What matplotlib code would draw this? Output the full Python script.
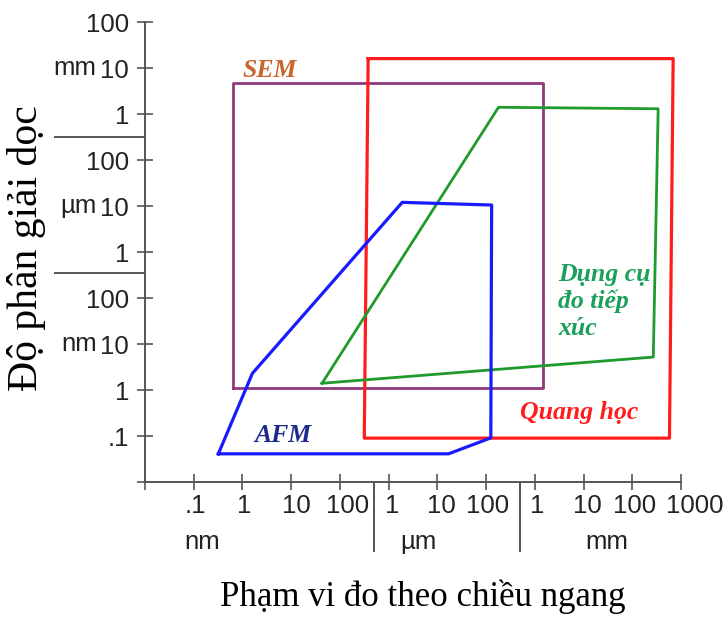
import numpy as np
import matplotlib
matplotlib.use("Agg")
import matplotlib.pyplot as plt
import matplotlib.transforms as mtransforms

# lengths are all in nm
x_ticks = [1e-2, 1e-1, 1, 10, 100, 1e3, 1e4, 1e5, 1e6, 1e7, 1e8, 1e9]
x_labels = ["", ".1", "1", "10", "100", "1", "10", "100", "1", "10", "100", "1000"]
y_ticks = [1e-2, 1e-1, 1, 10, 100, 1e3, 1e4, 1e5, 1e6, 1e7, 1e8]
y_labels = ["", ".1", "1", "10", "100", "1", "10", "100", "1", "10", "100"]
units = ["nm", "µm", "mm"]
unit_x_pos = [0.15, 4e3, 3e7]       # where unit names sit under the x axis
unit_y_pos = [10, 1e4, 1e7]         # unit names next to the y axis
x_dividers = [10**2.7, 10**5.7]
y_dividers = [10**2.55, 10**5.5]

sem_x = [0.65, 1.5e6, 1.5e6, 0.65]
sem_y = [1.1, 1.1, 4.7e6, 4.7e6]
opt_x = [380, 6.9e8, 5.8e8, 316]
opt_y = [1.6e7, 1.6e7, 0.09, 0.09]
contact_x = [43, 1.8e5, 3.4e8, 2.7e8]
contact_y = [1.4, 1.4e6, 1.3e6, 5.2]
afm_x = [0.32, 1.6, 1.9e3, 1.3e5, 1.25e5, 1.7e4]
afm_y = [0.041, 2.3, 1.2e4, 1.05e4, 0.091, 0.041]

fig = plt.figure(figsize=(7.28, 6.17), dpi=100)
ax = fig.add_axes([145/728, 135/617, 536/728, 460/617])
ax.set_xscale("log")
ax.set_yscale("log")
ax.set_xlim(1e-2, 1e9)
ax.set_ylim(1e-2, 1e8)
ax.minorticks_off()

for s in ["top", "right"]:
    ax.spines[s].set_visible(False)
for s in ["left", "bottom"]:
    ax.spines[s].set_color("#555555")
    ax.spines[s].set_linewidth(1.4)

tick_font = dict(family="Liberation Sans", size=18.5, color="#222222")
ax.set_xticks(x_ticks)
ax.set_xticklabels(x_labels, fontdict=tick_font)
ax.set_yticks(y_ticks)
ax.set_yticklabels(y_labels, fontdict=tick_font)
ax.tick_params(direction="inout", length=11, width=1.2, color="#555555")
ax.tick_params(axis="y", pad=6)
ax.tick_params(axis="x", pad=3)
# small nudges of the x tick labels (px), as in the original drawing
x_nudge = [0, 2, 2, 5, 8, 4, 4, 1, 2, 4, 2, 14]
for lbl, dx in zip(ax.get_xticklabels(), x_nudge):
    lbl.set_transform(lbl.get_transform() +
                      mtransforms.ScaledTranslation(dx/100, 0, fig.dpi_scale_trans))

def close(v):
    return list(v) + [v[0]]

ax.plot(close(sem_x), close(sem_y), color="#8c3a7c", lw=2.0, clip_on=False)
ax.plot(close(opt_x), close(opt_y), color="#ff1c1c", lw=2.3, clip_on=False)
ax.plot(close(contact_x), close(contact_y), color="#1f9a2c", lw=2.0, clip_on=False)
ax.plot(close(afm_x), close(afm_y), color="#1a1aff", lw=2.3, clip_on=False)

lab = dict(family="Liberation Serif", weight="bold", style="italic", size=18.5)
ax.text(10**0.55, 10**6.95, "SEM", color="#c8652c", ha="center", va="center", **lab)
ax.text(10**0.82, 10**-0.99, "AFM", color="#1c2a8c", ha="center", va="center", **lab)
ax.text(10**6.48, 10**1.93, "Dụng cụ\nđo tiếp\nxúc", color="#1aa05a", ha="left",
        va="center", linespacing=1.2, **lab)
ax.text(10**6.91, 10**-0.5, "Quang học", color="#ff1c1c", ha="center", va="center", **lab)

# unit names and dividers
xt = mtransforms.blended_transform_factory(ax.transData, ax.transAxes)
yt = mtransforms.blended_transform_factory(ax.transAxes, ax.transData)
for u, xp in zip(units, unit_x_pos):
    ax.text(xp, -0.13, u, transform=xt, ha="center", va="center", clip_on=False, **tick_font)
for u, yp in zip(units, unit_y_pos):
    ax.text(-0.09, yp, u, transform=yt, ha="right", va="center", clip_on=False, **tick_font)
for xv in x_dividers:
    ax.plot([xv, xv], [0, -0.15], transform=xt, color="#555555", lw=1.4, clip_on=False)
for yv in y_dividers:
    ax.plot([-0.168, 0], [yv, yv], transform=yt, color="#555555", lw=1.4, clip_on=False)

ax.set_xlabel("Phạm vi đo theo chiều ngang", family="Liberation Serif", size=25,
              va="center")
ax.xaxis.set_label_coords(0.519, -0.25)
ax.set_ylabel("Độ phân giải dọc", family="Liberation Serif", size=30, va="center")
ax.yaxis.set_label_coords(-0.222, 0.509)

fig.savefig("out.png", dpi=100)
